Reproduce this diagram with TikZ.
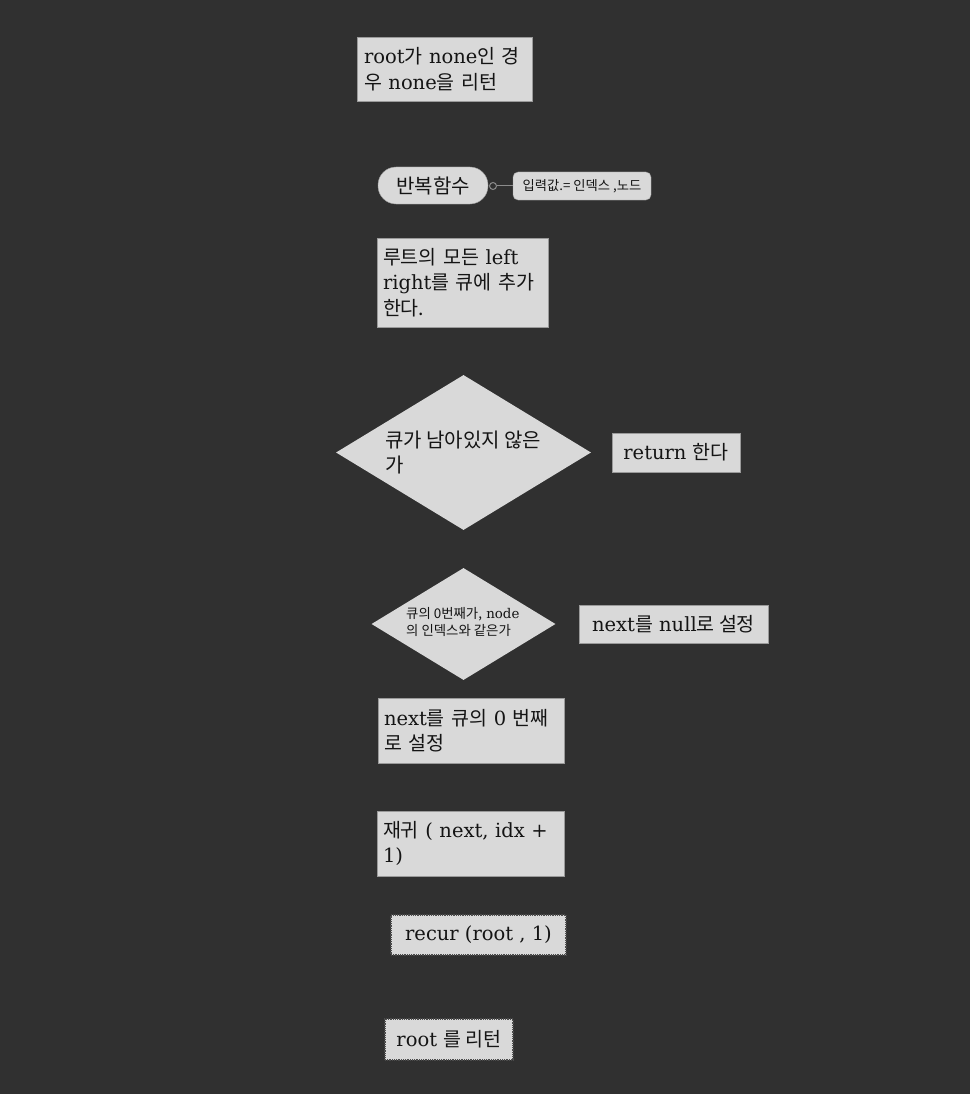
\documentclass[tikz,border=0pt]{standalone}
\usepackage{fontspec}
\setmainfont{DejaVu Serif}
\newfontfamily\kr{Noto Sans CJK KR}
\usetikzlibrary{shapes.geometric}
\definecolor{bg}{HTML}{303030}
\definecolor{boxfill}{HTML}{D9D9D9}
\definecolor{boxline}{HTML}{9A9A9A}
\definecolor{ink}{HTML}{141414}
\definecolor{linkc}{HTML}{8C8C8C}
\tikzset{
  box/.style={draw=boxline, line width=0.8pt, fill=boxfill, inner sep=0pt, align=left,
    text=ink, font=\fontsize{19.5}{25.5}\selectfont},
  dotbox/.style={box, draw=black!70, densely dotted, line width=1.2pt},
  dia/.style={diamond, fill=boxfill, draw=none, inner sep=0pt},
  diatext/.style={inner sep=0pt, align=left, text=ink, anchor=north west},
  pill/.style={draw=boxline, fill=boxfill, rounded corners=18pt, inner sep=0pt, text=ink},
  tag/.style={draw=boxline, fill=boxfill, rounded corners=5pt, inner sep=0pt, text=ink,
    font=\kr\fontsize{13.3}{16}\selectfont},
  link/.style={draw=linkc, line width=1pt},
}
\begin{document}
\begin{tikzpicture}[x=1pt,y=-1pt]
\fill[bg] (0,0) rectangle (970,1094);
\useasboundingbox (0,0) rectangle (970,1094);

\node[box, minimum width=175, minimum height=64, text width=161] (root) at (444.5,69)
  {root{\kr 가} none{\kr 인 경}\\{\kr 우} none{\kr 을 리턴}};

\node[pill, minimum width=110, minimum height=37, font=\kr\fontsize{20}{22}\selectfont] (rep) at (433,185.5) {반복함수};
\node[tag, minimum width=138, minimum height=28] (inp) at (582,186) {입력값.= 인덱스 ,노드};
\node[circle, draw=linkc, line width=1pt, fill=bg, inner sep=0pt, minimum size=7pt] (dot) at (493,186) {};
\draw[link] (dot) -- (inp.west);

\node[box, minimum width=171, minimum height=89, text width=159] (lr) at (462.5,282.5)
  {{\kr 루트의 모든} left\\right{\kr 를 큐에 추가}\\{\kr 한다.}};

\node[dia, minimum width=255, minimum height=155] (q1) at (463.5,452.5) {};
\node[diatext, font=\kr\fontsize{20}{25}\selectfont] (q1t) at (385,431) {큐가 남아있지 않은\\가};

\node[box, minimum width=128, minimum height=39] (ret) at (676,452.5) {return {\kr 한다}};

\node[dia, minimum width=184, minimum height=112] (q2) at (463.5,624) {};
\node[diatext, font=\fontsize{13.4}{17}\selectfont] (q2t) at (406,607)
  {{\kr 큐의 0번째가,} node\\{\kr 의 인덱스와 같은가}};

\node[box, minimum width=189, minimum height=38] (nn) at (673.5,624) {next{\kr 를} null{\kr 로 설정}};

\node[box, minimum width=186, minimum height=65, text width=174] (n0) at (471,730.5)
  {next{\kr 를 큐의} 0 {\kr 번째}\\{\kr 로 설정}};

\node[box, minimum width=187, minimum height=65, text width=175] (rec) at (470.5,843.5)
  {{\kr 재귀} ( next, idx +\\1)};

\node[dotbox, minimum width=175, minimum height=40] (call) at (478.5,935) {recur (root , 1)};

\node[dotbox, minimum width=128, minimum height=41] (ret2) at (449,1039.5) {root {\kr 를 리턴}};
\end{tikzpicture}
\end{document}
